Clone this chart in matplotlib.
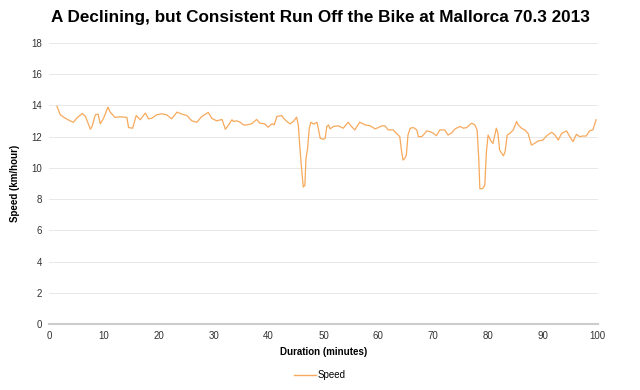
import matplotlib
matplotlib.use("Agg")
import matplotlib.pyplot as plt
from matplotlib.lines import Line2D

minutes = [1.4, 2.0, 2.9, 3.8, 4.4, 5.0, 6.0, 6.6, 7.5, 7.8, 8.4, 8.9, 9.3, 9.9,
           10.7, 11.1, 12.0, 12.9, 14.15, 14.45, 15.2, 15.85, 16.6, 17.5, 18.1,
           18.7, 19.6, 20.5, 21.4, 22.3, 23.3, 24.2, 25.1, 26.0, 26.9, 27.8,
           29.0, 29.6, 30.5, 31.5, 32.1, 32.7, 33.3, 33.6, 34.2, 34.8, 35.4,
           36.0, 36.9, 37.8, 38.4, 39.3, 39.9, 40.6, 41.0, 41.5, 42.4, 42.7,
           43.3, 43.9, 44.5, 45.1, 45.4, 45.7, 46.0, 46.3, 46.6, 46.8, 47.1,
           47.4, 47.7, 48.2, 48.8, 49.1, 49.4, 50.0, 50.3, 50.6, 50.9, 51.2,
           51.8, 52.7, 53.6, 54.5, 55.1, 55.7, 56.6, 57.6, 58.5, 59.4, 60.0,
           60.6, 61.2, 61.8, 62.7, 63.3, 63.9, 64.2, 64.5, 64.8, 65.1, 65.4,
           65.8, 66.4, 67.0, 67.3, 67.9, 68.5, 68.8, 69.4, 70.0, 70.6, 71.2,
           72.1, 72.7, 73.3, 74.0, 74.9, 75.5, 76.1, 77.0, 77.6, 78.0, 78.3,
           78.5, 79.0, 79.4, 79.7, 80.0, 80.6, 80.9, 81.5, 81.8, 82.1, 82.8,
           83.1, 83.5, 84.0, 84.6, 85.2, 85.5, 86.1, 86.7, 87.3, 87.9, 88.5,
           89.1, 90.0, 90.7, 91.6, 92.2, 92.8, 93.4, 94.3, 94.9, 95.5, 96.1,
           96.7, 97.3, 97.9, 98.5, 99.1, 99.7]
speed = [13.94, 13.40, 13.18, 13.01, 12.92, 13.18, 13.48, 13.29, 12.47, 12.65,
         13.40, 13.44, 12.82, 13.18, 13.89, 13.57, 13.23, 13.27, 13.23, 12.58,
         12.54, 13.35, 13.08, 13.51, 13.14, 13.18, 13.40, 13.46, 13.40, 13.14,
         13.57, 13.44, 13.35, 13.01, 12.92, 13.29, 13.55, 13.18, 13.01, 13.10,
         12.47, 12.75, 13.08, 12.97, 13.01, 12.92, 12.75, 12.75, 12.82, 13.10,
         12.86, 12.82, 12.60, 12.82, 12.75, 13.29, 13.35, 13.18, 12.97, 12.82,
         12.97, 13.25, 12.75, 11.25, 9.96, 8.77, 8.88, 10.60, 11.25, 12.54,
         12.92, 12.80, 12.92, 12.43, 11.89, 11.83, 11.89, 12.65, 12.75, 12.50,
         12.65, 12.69, 12.54, 12.92, 12.65, 12.43, 12.92, 12.75, 12.69, 12.50,
         12.58, 12.69, 12.69, 12.43, 12.43, 12.22, 12.00, 11.14, 10.50, 10.60,
         10.80, 12.10, 12.54, 12.58, 12.43, 12.00, 12.00, 12.22, 12.37, 12.32,
         12.22, 12.06, 12.43, 12.43, 12.10, 12.22, 12.50, 12.65, 12.54, 12.58,
         12.86, 12.75, 12.43, 10.60, 8.67, 8.67, 8.88, 11.03, 12.10, 11.68,
         11.57, 12.54, 12.22, 11.14, 10.77, 11.03, 12.10, 12.22, 12.43, 12.97,
         12.75, 12.54, 12.43, 12.20, 11.46, 11.57, 11.72, 11.78, 12.06, 12.28,
         12.10, 11.78, 12.20, 12.37, 12.00, 11.68, 12.15, 12.00, 12.04, 12.04,
         12.37, 12.43, 13.08]

x_ticks = list(range(0, 101, 10))
y_ticks = list(range(0, 19, 2))

plt.rcParams['font.family'] = ['Liberation Sans', 'DejaVu Sans']

fig = plt.figure(figsize=(6.4, 3.9), dpi=100)
ax = fig.add_axes([0.077, 0.169, 0.857, 0.721])

line_color = '#F7A95C'
ax.plot(minutes, speed, color=line_color, linewidth=0.9)

ax.set_xlim(0, 100)
ax.set_ylim(0, 18)
ax.set_xticks(x_ticks)
ax.set_yticks(y_ticks)
ax.tick_params(axis='both', length=0, labelsize=7, colors='#333333', pad=5)
ax.grid(axis='y', color='#E8E8E8', linewidth=0.7)
ax.set_axisbelow(True)
for s in ['top', 'right', 'left']:
    ax.spines[s].set_visible(False)
ax.spines['bottom'].set_color('#CCCCCC')
ax.spines['bottom'].set_linewidth(1.5)

ax.set_xlabel('Duration (minutes)', fontsize=7, fontweight='bold', labelpad=4)
ax.set_ylabel('Speed (km/hour)', fontsize=7, fontweight='bold', labelpad=8)

fig.text(0.5, 0.955,
         'A Declining, but Consistent Run Off the Bike at Mallorca 70.3 2013',
         fontsize=12.3, fontweight='bold', ha='center', va='center')

handle = Line2D([0], [0], color=line_color, linewidth=1.0)
fig.legend([handle], ['Speed'], loc='center', bbox_to_anchor=(0.5, 0.038),
           frameon=False, fontsize=7, handlelength=2.2, handletextpad=0.2)

fig.savefig('out.png', dpi=100)
